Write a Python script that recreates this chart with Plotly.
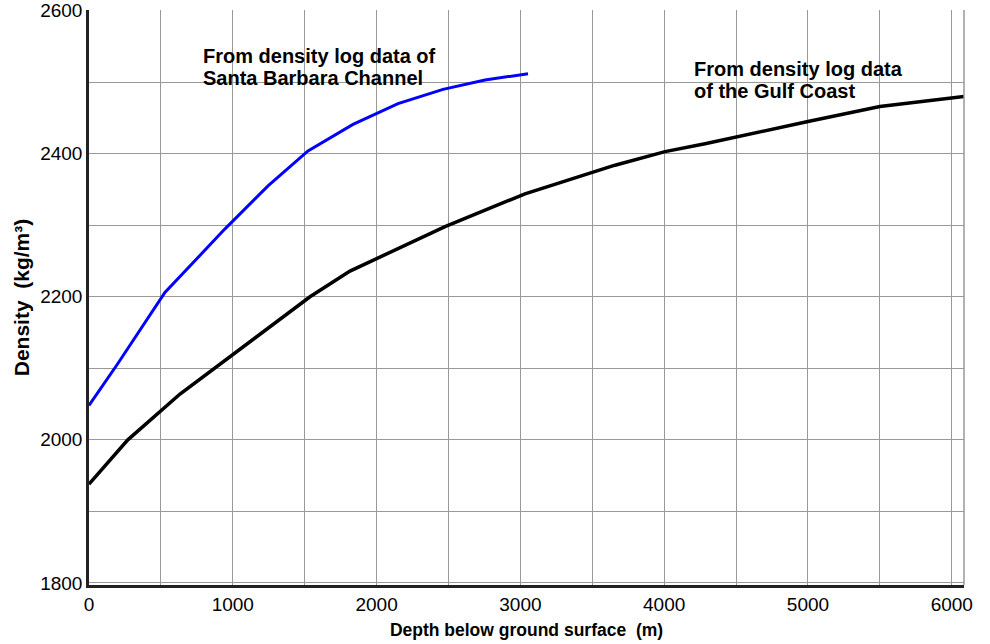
import plotly.graph_objects as go

# Density vs depth profiles (kg/m^3 against metres)
gulf_depth = [0, 270, 633, 883, 1537, 1815, 2476, 3032, 3658, 4006, 4284, 5000, 5500, 6085]
gulf_density = [1938, 2000, 2064, 2102, 2200, 2236, 2298, 2344, 2384, 2403, 2414, 2445, 2466, 2480]

sb_depth = [0, 195, 528, 946, 1245, 1523, 1836, 2149, 2462, 2754, 3053]
sb_density = [2048, 2105, 2206, 2295, 2355, 2404, 2441, 2470, 2490, 2503, 2512]

x_ticks = [0, 1000, 2000, 3000, 4000, 5000, 6000]
y_ticks = [1800, 2000, 2200, 2400, 2600]

sb_label = ["From density log data of", "Santa Barbara Channel"]
gulf_label = ["From density log data", "of the Gulf Coast"]

font_family = "Liberation Sans, Arial, sans-serif"
plot_left, plot_bottom, plot_w, plot_h = 89, 585, 875, 575

fig = go.Figure()
fig.add_trace(go.Scatter(x=gulf_depth, y=gulf_density, mode="lines",
                         line=dict(color="black", width=3.5), showlegend=False))
fig.add_trace(go.Scatter(x=sb_depth, y=sb_density, mode="lines",
                         line=dict(color="#0000ff", width=3), showlegend=False))


def add_label(lines, left_px, first_center_px, spacing_px):
    # one annotation per text line keeps the tight line spacing
    for i, line in enumerate(lines):
        fig.add_annotation(text=f"<b>{line}</b>", xref="paper", yref="paper",
                           x=(left_px - plot_left) / plot_w,
                           y=(plot_bottom - first_center_px - i * spacing_px) / plot_h,
                           xanchor="left", yanchor="middle", align="left", showarrow=False,
                           font=dict(family=font_family, size=20, color="black"))


add_label(sb_label, 201, 56, 22)
add_label(gulf_label, 692, 69, 22)

# Right-hand frame edge
fig.add_shape(type="line", xref="paper", yref="paper", x0=1, x1=1, y0=0, y1=1,
              line=dict(color="#999999", width=1.5))

fig.update_layout(
    width=990, height=644,
    margin=dict(l=89, r=26, t=10, b=59),
    paper_bgcolor="white", plot_bgcolor="white",
    font=dict(family=font_family, size=19, color="black"),
    xaxis=dict(range=[0, 6085], tickvals=x_ticks, ticks="", showgrid=True, automargin=False,
               gridcolor="#999999", gridwidth=1.2,
               minor=dict(dtick=500, showgrid=True, gridcolor="#999999", gridwidth=1.2),
               showline=True, linecolor="#222222", linewidth=2.5, zeroline=False,
               title=dict(text="<b>Depth below ground surface  (m)</b>", standoff=11,
                          font=dict(size=17.5)),
               tickfont=dict(size=19)),
    yaxis=dict(range=[1797, 2601], tickvals=y_ticks, ticks="", showgrid=True, automargin=False,
               gridcolor="#999999", gridwidth=1.2,
               minor=dict(dtick=100, showgrid=True, gridcolor="#999999", gridwidth=1.2),
               showline=True, linecolor="#222222", linewidth=2.5, zeroline=False,
               title=dict(text="<b>Density  (kg/m³)</b>", standoff=5, font=dict(size=21)),
               tickfont=dict(size=19)),
)

fig.write_html("out.html")
